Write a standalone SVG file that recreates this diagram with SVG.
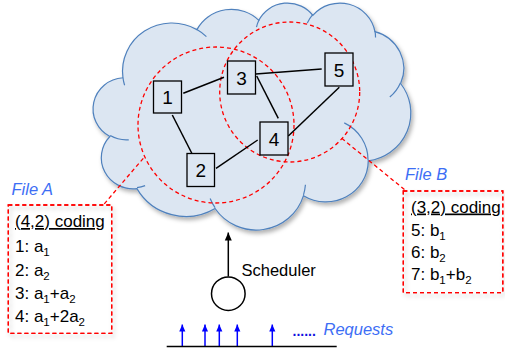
<svg xmlns="http://www.w3.org/2000/svg" width="505" height="354" viewBox="0 0 505 354">
<defs>
<style>
.txt{font-family:"Liberation Sans",Arial,sans-serif;fill:#000}
.blue{font-family:"Liberation Sans",Arial,sans-serif;font-style:italic;fill:#3D6EF5}
.node rect{fill:#DCE6F2;stroke:#000;stroke-width:1.3}
.node text{font-family:"Liberation Sans",Arial,sans-serif;font-size:19px;text-anchor:middle;fill:#000}
.edge{stroke:#000;stroke-width:1.5;fill:none}
.red{stroke:#FF0000;stroke-width:1.3;stroke-dasharray:4 3;fill:none}
.hook{fill:none;stroke:#4F81BD;stroke-width:1.2}
</style>
<filter id="sh" x="-10%" y="-10%" width="120%" height="125%">
<feDropShadow dx="2" dy="3" stdDeviation="2" flood-color="#000" flood-opacity="0.3"/>
</filter>
<marker id="ak" viewBox="0 0 8 8" refX="8" refY="4" markerWidth="8" markerHeight="8" markerUnits="userSpaceOnUse" orient="auto">
<path d="M0,0.5 L8,4 L0,7.5 Z" fill="#000"/>
</marker>
<marker id="ab" viewBox="0 0 8 8" refX="8" refY="4" markerWidth="7" markerHeight="7" markerUnits="userSpaceOnUse" orient="auto">
<path d="M0,0.5 L8,4 L0,7.5 Z" fill="#0000FF"/>
</marker>
</defs>
<rect width="505" height="354" fill="#fff"/>

<g id="cloud">
<path filter="url(#sh)" fill="#DCE6F2" stroke="#4F81BD" stroke-width="1.2" d="M122.95,77.77 A49.44 48.27 0 0 1 196.93,29.62 A39.04 38.17 0 0 1 258.83,20.33 A31.96 31.22 0 0 1 312.83,15.33 A35.56 34.64 0 0 1 374.95,31.59 A39.04 38.20 0 0 1 400.58,83.50 A49.60 48.42 0 0 1 368.26,160.93 A42.35 41.32 0 0 1 303.49,195.65 A49.43 48.40 0 0 1 215.08,208.52 A56.52 55.37 0 0 1 136.93,188.60 A31.92 31.08 0 0 1 109.90,136.50 A31.81 31.22 0 0 1 122.95,77.77 Z"/>
<path class="hook" d="M128.76,139.78 A31.81 31.22 0 0 1 110.21,135.60 M145.12,185.59 A31.92 31.08 0 0 1 137.01,187.59 M215.04,207.60 A49.43 48.40 0 0 1 210.15,198.46 M305.44,184.81 A49.43 48.40 0 0 1 303.49,194.84 M344.26,122.85 A42.35 41.32 0 0 1 368.06,160.33 M400.40,82.94 A39.04 38.20 0 0 1 389.80,97.00 M374.97,30.80 A35.56 34.64 0 0 1 375.53,37.43 M307.28,23.06 A35.56 34.64 0 0 1 312.71,14.59 M256.49,27.09 A31.96 31.22 0 0 1 259.12,19.79 M196.89,29.57 A49.44 48.27 0 0 1 206.41,36.65 M124.61,85.22 A49.44 48.27 0 0 1 122.95,77.77"/>
</g>

<g id="groups">
<circle class="red" cx="216" cy="125" r="78"/>
<circle class="red" cx="289.7" cy="92" r="70"/>
<line class="red" x1="143.3" y1="158.3" x2="103.3" y2="205"/>
<line class="red" x1="341.7" y1="138.3" x2="405" y2="190"/>
</g>

<g id="connectors">
<line class="edge" x1="183.3" y1="93.3" x2="224" y2="77.3"/>
<line class="edge" x1="172.3" y1="115" x2="192.7" y2="155"/>
<line class="edge" x1="255.7" y1="74" x2="321.7" y2="69"/>
<line class="edge" x1="256.7" y1="76" x2="278.3" y2="118.3"/>
<line class="edge" x1="339.3" y1="87.3" x2="288.3" y2="136"/>
<line class="edge" x1="216" y1="168.3" x2="257.7" y2="140"/>
<line x1="228.3" y1="276.5" x2="228.3" y2="232.5" stroke="#000" stroke-width="1.5" marker-end="url(#ak)"/>
<g stroke="#0000FF" stroke-width="1.5" marker-end="url(#ab)">
<line x1="182.3" y1="346" x2="182.3" y2="324.5"/>
<line x1="205" y1="346" x2="205" y2="324.5"/>
<line x1="219.3" y1="346" x2="219.3" y2="324.5"/>
<line x1="237.3" y1="346" x2="237.3" y2="324.5"/>
<line x1="272.3" y1="346" x2="272.3" y2="324.5"/>
</g>
<line x1="166.7" y1="346.5" x2="336.7" y2="346.5" stroke="#000" stroke-width="1.5"/>
</g>

<g id="n1" class="node"><rect x="153.5" y="81" width="28" height="32"/><text x="167.5" y="104">1</text></g>
<g id="n2" class="node"><rect x="187" y="153.5" width="27.5" height="33"/><text x="200.8" y="177">2</text></g>
<g id="n3" class="node"><rect x="227.5" y="61" width="28" height="33"/><text x="241.5" y="84.5">3</text></g>
<g id="n4" class="node"><rect x="260" y="122" width="28" height="33"/><text x="274" y="145.5">4</text></g>
<g id="n5" class="node"><rect x="325" y="53" width="28" height="33"/><text x="339" y="76.5">5</text></g>

<g id="fileA">
<rect x="8.3" y="205" width="103.4" height="128.3" fill="#fff" class="red" filter="url(#sh)"/>
<rect x="8.3" y="205" width="103.4" height="128.3" class="red"/>
<text class="blue" x="11.5" y="195" font-size="16.5">File A</text>
<g class="txt" font-size="17">
<text x="15" y="227" text-decoration="underline">(4,2) coding</text>
<text x="15" y="252">1: a<tspan font-size="11.5" dy="4">1</tspan></text>
<text x="15" y="275.5">2: a<tspan font-size="11.5" dy="4">2</tspan></text>
<text x="15" y="298.5">3: a<tspan font-size="11.5" dy="4">1</tspan><tspan dy="-4">+a</tspan><tspan font-size="11.5" dy="4">2</tspan></text>
<text x="15" y="321.5">4: a<tspan font-size="11.5" dy="4">1</tspan><tspan dy="-4">+2a</tspan><tspan font-size="11.5" dy="4">2</tspan></text>
</g>
</g>

<g id="fileB">
<rect x="403.3" y="191" width="99.5" height="101.7" fill="#fff" class="red" filter="url(#sh)"/>
<rect x="403.3" y="191" width="99.5" height="101.7" class="red"/>
<text class="blue" x="405" y="180" font-size="16.5">File B</text>
<g class="txt" font-size="17">
<text x="411" y="212.5" text-decoration="underline">(3,2) coding</text>
<text x="411" y="235.5">5: b<tspan font-size="11.5" dy="4">1</tspan></text>
<text x="411" y="257.5">6: b<tspan font-size="11.5" dy="4">2</tspan></text>
<text x="411" y="279.5">7: b<tspan font-size="11.5" dy="4">1</tspan><tspan dy="-4">+b</tspan><tspan font-size="11.5" dy="4">2</tspan></text>
</g>
</g>

<g id="scheduler">
<circle cx="228.3" cy="293.7" r="16.8" fill="#fff" stroke="#000" stroke-width="1.5"/>
<text class="txt" x="241.5" y="276" font-size="16.5">Scheduler</text>
</g>

<g id="requests">
<text x="292.5" y="336" font-family="Liberation Sans,Arial,sans-serif" font-size="14" font-weight="bold" fill="#1010E0">......</text>
<text class="blue" x="323.5" y="335" font-size="16.5">Requests</text>
</g>
</svg>
